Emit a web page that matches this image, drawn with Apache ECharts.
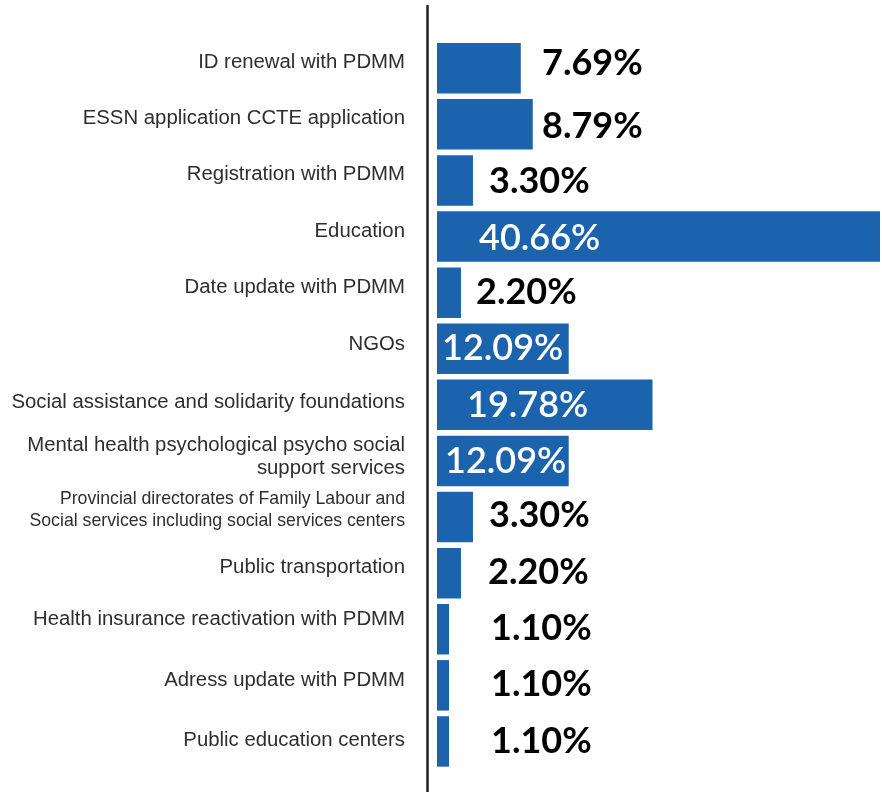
<!DOCTYPE html>
<html>
<head>
<meta charset="utf-8">
<style>
  html, body { margin: 0; padding: 0; background: #ffffff; }
  #chart { width: 882px; height: 792px; }
</style>
<script src="https://cdn.jsdelivr.net/npm/echarts@6/dist/echarts.min.js"></script>
</head>
<body>
<div id="chart"></div>
<script>
// Where people were referred for support (share of referrals, %)
const categories = [
  'ID renewal with PDMM',
  'ESSN application CCTE application',
  'Registration with PDMM',
  'Education',
  'Date update with PDMM',
  'NGOs',
  'Social assistance and solidarity foundations',
  'Mental health psychological psycho social\nsupport services',
  'Provincial directorates of Family Labour and\nSocial services including social services centers',
  'Public transportation',
  'Health insurance reactivation with PDMM',
  'Adress update with PDMM',
  'Public education centers'
];
const shares = [7.69, 8.79, 3.30, 40.66, 2.20, 12.09, 19.78, 12.09, 3.30, 2.20, 1.10, 1.10, 1.10];

// Styling: value label placement [x from bar start, y shift] and category label lift, in px
const valueLabelPlacement = [
  [105, -5], [105, 2], [52, 0.5], [42, 1.5], [39, 0], [5, 0], [30, 1],
  [8, 0], [52, -1.5], [51, -1], [54, -1], [54, -1], [54, -0.5]
];
const categoryLift = [6, 6, 6, 5, 5, 4, 2, 4, 7, 6, 10, 5, 1];
const smallCategories = [8];

const BAR_BLUE = '#1c63ad';

const chart = echarts.init(document.getElementById('chart'));

// rich styles: normal and small text lines, plus one spacer line per category
const rich = {
  t: { fontSize: 20.35, lineHeight: 23.5 },
  s: { fontSize: 17.7, lineHeight: 21.5 }
};
categoryLift.forEach((lift, i) => {
  rich['g' + i] = { fontSize: 1, lineHeight: lift * 2 };
});

const barData = shares.map((v, i) => {
  const inside = v > 10;
  return {
    value: v,
    label: {
      position: [valueLabelPlacement[i][0], '50%'],
      offset: [0, valueLabelPlacement[i][1]],
      color: inside ? '#ffffff' : '#000000',
      fontWeight: inside ? 600 : 'bold'
    }
  };
});

chart.setOption({
  animation: false,
  backgroundColor: '#ffffff',
  grid: [
    { left: 437, right: 2, top: 40.2, bottom: 22.5, containLabel: false },
    { left: 427.5, width: 1, top: 6, bottom: 0 }
  ],
  xAxis: [
    { type: 'value', gridIndex: 0, min: 0, max: 'dataMax', show: false },
    { type: 'value', gridIndex: 1, show: false }
  ],
  yAxis: [
    {
      type: 'category',
      gridIndex: 0,
      inverse: true,
      data: categories,
      axisLine: { show: false },
      axisTick: { show: false },
      splitLine: { show: false },
      axisLabel: {
        margin: 32,
        color: '#2e2e2e',
        fontFamily: '"Liberation Sans", Arial, Helvetica, sans-serif',
        fontSize: 20,
        align: 'right',
        verticalAlign: 'middle',
        rich: rich,
        formatter: (value, idx) => {
          const key = smallCategories.includes(idx) ? 's' : 't';
          const lines = value.split('\n').map(l => '{' + key + '|' + l + '}');
          return lines.join('\n') + '\n{g' + idx + '| }';
        }
      }
    },
    {
      type: 'value',
      gridIndex: 1,
      axisLine: { show: true, lineStyle: { color: '#231f20', width: 2.5 } },
      axisTick: { show: false },
      axisLabel: { show: false },
      splitLine: { show: false }
    }
  ],
  series: [
    {
      type: 'bar',
      xAxisIndex: 0,
      yAxisIndex: 0,
      data: barData,
      barCategoryGap: '10%',
      itemStyle: { color: BAR_BLUE },
      label: {
        show: true,
        align: 'left',
        verticalAlign: 'middle',
        fontFamily: 'Lato, "Open Sans", sans-serif',
        fontSize: 36,
        formatter: p => p.value.toFixed(2) + '%'
      }
    }
  ]
});
</script>
</body>
</html>
